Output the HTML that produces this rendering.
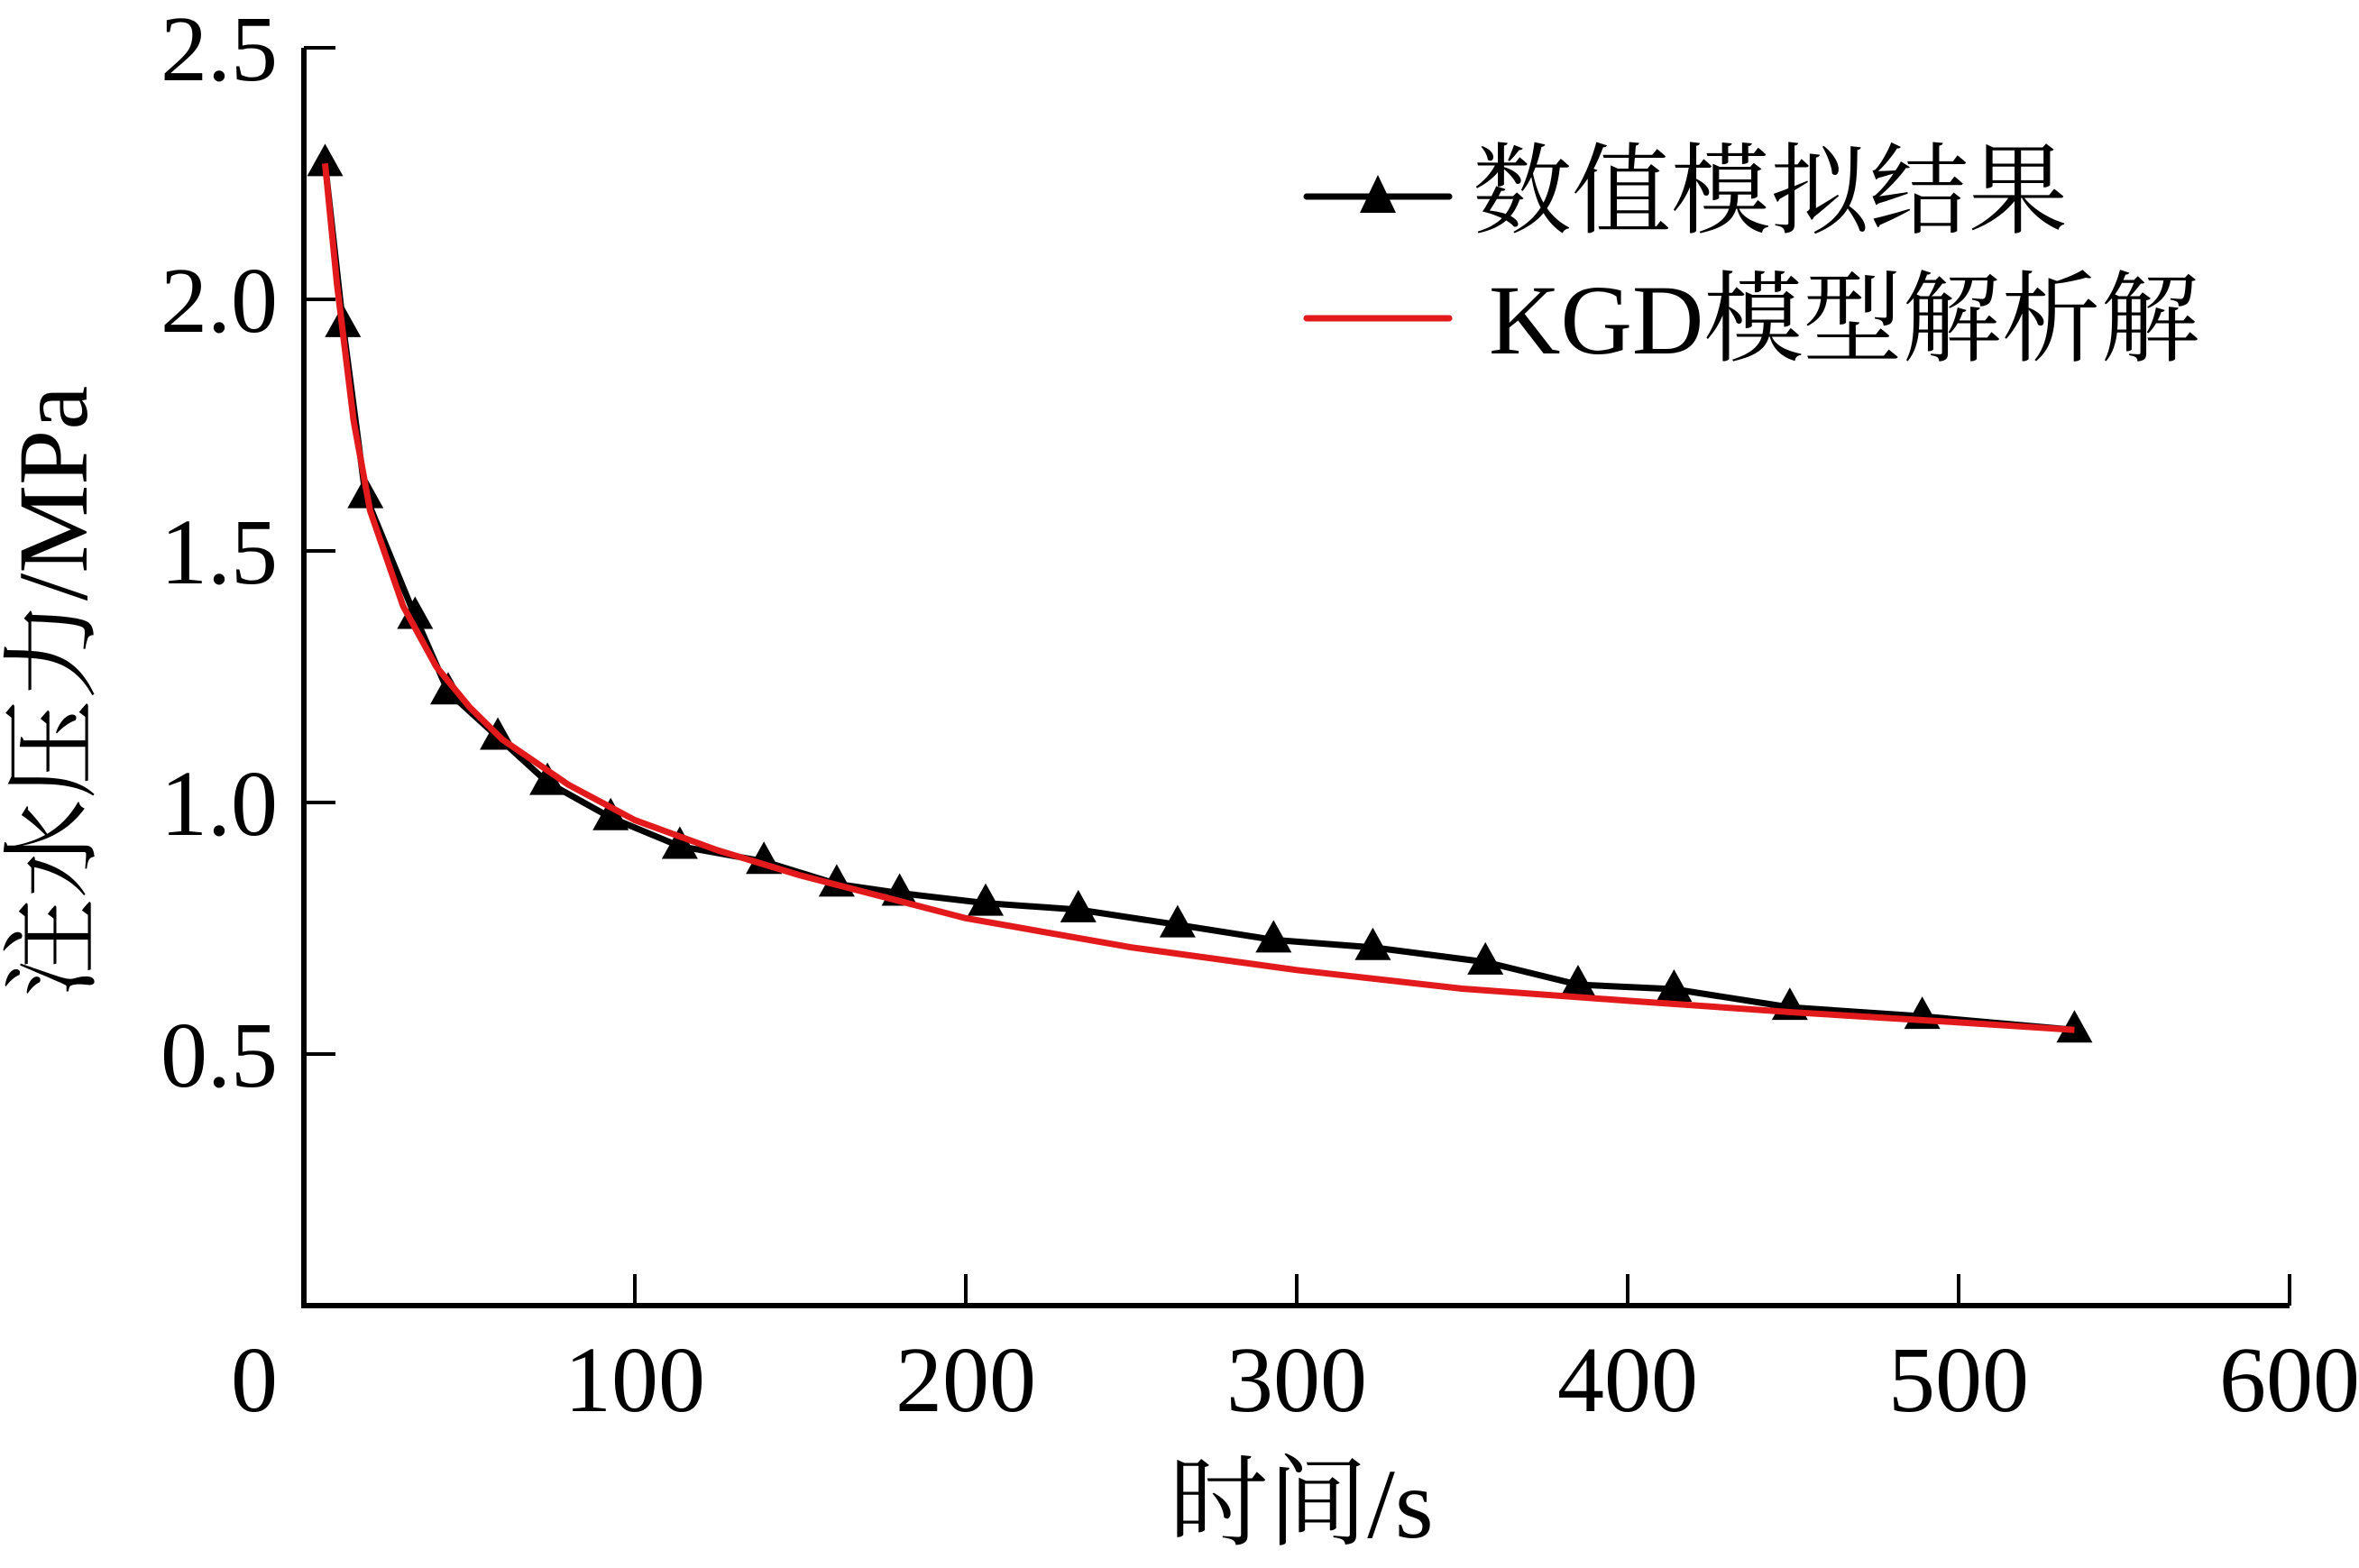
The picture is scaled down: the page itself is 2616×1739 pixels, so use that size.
<!DOCTYPE html>
<html><head><meta charset="utf-8"><style>
html,body{margin:0;padding:0;background:#fff;}
svg{display:block;}
text{font-family:"Liberation Serif","Noto Serif CJK SC","Noto Sans CJK SC",serif;fill:#000;}
</style></head><body>
<svg id="chart" width="2616" height="1739" viewBox="0 0 2616 1739">
<g id="axes"></g>
<g id="series"></g>
<g id="legend">
  <line x1="1449" y1="218" x2="1607" y2="218" stroke="#000" stroke-width="7" stroke-linecap="round"/>
  <polygon points="1528,194 1508,236 1548,236" fill="#000"/>
  <text x="1633" y="250" font-size="110">数值模拟结果</text>
  <line x1="1449" y1="353" x2="1607" y2="353" stroke="#e31a1c" stroke-width="7" stroke-linecap="round"/>
  <text x="1651" y="392" font-size="110">KGD模型解析解</text>
</g>
<text x="1443" y="1705" font-size="110" text-anchor="middle">时间/s</text>
<text transform="translate(96,767) rotate(-90)" font-size="110" text-anchor="middle">注水压力/MPa</text>
</svg>
<script>
const xTicks=[0,100,200,300,400,500,600];
const yTicks=[0.5,1.0,1.5,2.0,2.5];
const yTickLabels=["0.5","1.0","1.5","2.0","2.5"];
const numX=[6.4,11.8,18.6,33.6,43.6,58.6,73.6,92.7,113.6,139,161,180,206,234,264,293,323,357,385,414,449,489,535];
const numY=[2.27,1.95,1.61,1.37,1.22,1.13,1.04,0.97,0.913,0.883,0.838,0.82,0.80,0.787,0.757,0.727,0.712,0.683,0.638,0.629,0.593,0.575,0.548];
const kgdX=[6.4,10,15,20,30,40,50,60,80,100,125,150,200,250,300,350,400,450,500,535];
const kgdY=[2.27,2.03,1.76,1.58,1.39,1.27,1.19,1.125,1.035,0.965,0.905,0.855,0.77,0.712,0.667,0.63,0.606,0.583,0.563,0.548];

const X0=337,X1=2539,Y0=1448,Ytop=53;
const sx=v=>X0+(v-0)/(600-0)*(X1-X0);
const sy=v=>Y0-(v-0)/(2.5-0)*(Y0-Ytop);
const NS="http://www.w3.org/2000/svg";
const axes=document.getElementById('axes'),series=document.getElementById('series');
function mk(tag,attrs,parent){const e=document.createElementNS(NS,tag);for(const k in attrs)e.setAttribute(k,attrs[k]);parent.appendChild(e);return e;}

let a=mk('path',{d:`M${X0},${Ytop} L${X0},${Y0} L${X1},${Y0}`,fill:'none',stroke:'#000','stroke-width':6},axes);


xTicks.forEach(t=>{
  const l=mk('line',{x1:sx(t),x2:sx(t),y1:Y0,y2:Y0-35,stroke:'#000','stroke-width':4},axes);
  
  
  const tx=mk('text',{x:t===0?sx(t)-55:sx(t),y:1565,'font-size':104,'text-anchor':'middle'},axes);
  tx.textContent=String(t);
  
  
});
yTicks.forEach((t,i)=>{
  const l=mk('line',{x1:X0,x2:X0+35,y1:sy(t),y2:sy(t),stroke:'#000','stroke-width':4},axes);
  
  
  const tx=mk('text',{x:308,y:sy(t)+36,'font-size':104,'text-anchor':'end'},axes);
  tx.textContent=yTickLabels[i];
  
  
});
const np=mk('polyline',{points:numX.map((x,i)=>sx(x)+','+sy(numY[i])).join(' '),fill:'none',stroke:'#000','stroke-width':7,'stroke-linejoin':'round'},series);


numX.forEach((x,i)=>{
  const cx=sx(x),cy=sy(numY[i]);
  const m=mk('polygon',{points:`${cx},${cy-22} ${cx-20},${cy+14} ${cx+20},${cy+14}`,fill:'#000'},series);
  
  
});
const kp=mk('polyline',{points:kgdX.map((x,i)=>sx(x)+','+sy(kgdY[i])).join(' '),fill:'none',stroke:'#e31a1c','stroke-width':7,'stroke-linejoin':'round'},series);


</script>
</body></html>
